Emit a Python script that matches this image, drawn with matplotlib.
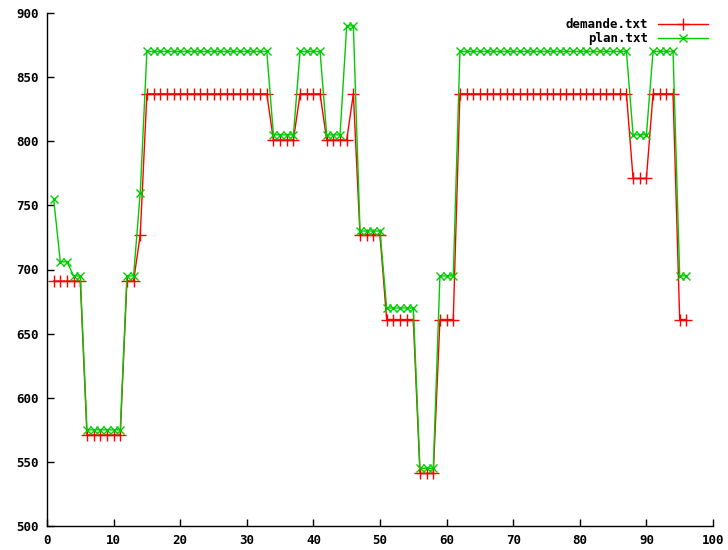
import matplotlib
matplotlib.use('Agg')
import matplotlib.pyplot as plt
import numpy as np

# quarter-hour index 1..96
x = np.arange(1, 97)

demande = ([691] * 5 + [571] * 6 + [691] * 2 + [727] + [837] * 19 + [801] * 4 +
           [837] * 4 + [801] * 4 + [837] + [727] * 4 + [661] * 5 + [541] * 3 +
           [661] * 3 + [837] * 26 + [771] * 3 + [837] * 4 + [661] * 2)

plan = ([755] + [706] * 2 + [695] * 2 + [575] * 6 + [695] * 2 + [760] + [870] * 19 +
        [805] * 4 + [870] * 4 + [805] * 3 + [890] * 2 + [730] * 4 + [670] * 5 +
        [545] * 3 + [695] * 3 + [870] * 26 + [805] * 3 + [870] * 4 + [695] * 2)

xticks = list(range(0, 101, 10))
yticks = list(range(500, 901, 50))

plt.rcParams['font.family'] = 'DejaVu Sans Mono'
plt.rcParams['font.weight'] = 'bold'
plt.rcParams['font.size'] = 9

fig = plt.figure(figsize=(7.28, 5.5), dpi=100)
ax = fig.add_axes([47 / 728, 24 / 550, 666 / 728, 513 / 550])

ax.plot(x, demande, '-+', color='#ff0000', lw=1, ms=8, mew=1, label='demande.txt')
ax.plot(x, plan, '-x', color='#00cc00', lw=1, ms=6, mew=1, label='plan.txt')

ax.set_xlim(0, 100)
ax.set_ylim(500, 900)
ax.set_xticks(xticks)
ax.set_yticks(yticks)
ax.tick_params(direction='in', length=5, width=1, pad=6)
for s in ['top', 'right']:
    ax.spines[s].set_visible(False)
for s in ['left', 'bottom']:
    ax.spines[s].set_linewidth(1)

ax.legend(loc='upper right', bbox_to_anchor=(1.0, 1.0), frameon=False,
          markerfirst=False, handlelength=4, labelspacing=0.1,
          borderaxespad=0.0, handletextpad=0.8)

fig.savefig('out.png', dpi=100)
